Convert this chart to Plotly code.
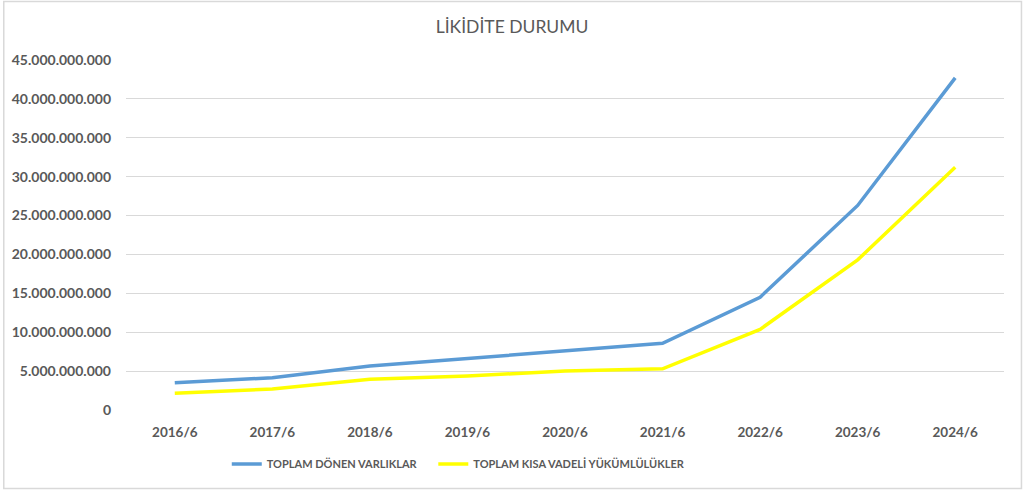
import plotly.graph_objects as go

categories = ["2016/6", "2017/6", "2018/6", "2019/6", "2020/6", "2021/6", "2022/6", "2023/6", "2024/6"]
donen_varliklar = [3.5e9, 4.15e9, 5.65e9, 6.6e9, 7.6e9, 8.57e9, 14.5e9, 26.3e9, 42.7e9]
kisa_vadeli = [2.15e9, 2.7e9, 3.95e9, 4.37e9, 5.0e9, 5.3e9, 10.37e9, 19.3e9, 31.2e9]
y_ticks = [0, 5e9, 10e9, 15e9, 20e9, 25e9, 30e9, 35e9, 40e9, 45e9]

W, H = 1024, 491
L, R, T, B = 124, 20, 60, 81
pw, ph = W - L - R, H - T - B

fig = go.Figure()
fig.add_trace(go.Scatter(x=categories, y=donen_varliklar, mode="lines",
                         name="TOPLAM DÖNEN VARLIKLAR", legend="legend",
                         line=dict(color="#5B9BD5", width=3.5)))
fig.add_trace(go.Scatter(x=categories, y=kisa_vadeli, mode="lines",
                         name="TOPLAM KISA VADELİ YÜKÜMLÜLÜKLER", legend="legend2",
                         line=dict(color="#FFFF00", width=3.5)))

font_family = "Lato, 'Open Sans', sans-serif"
legend_font = dict(family=font_family, size=11, color="#595959", weight="bold")
fig.update_layout(
    width=W, height=H,
    margin=dict(l=L, r=R, t=T, b=B),
    paper_bgcolor="white", plot_bgcolor="white",
    separators=",.",
    title=dict(text="LİKİDİTE DURUMU", x=0.5, xanchor="center", y=1 - 27 / H, yanchor="middle",
               font=dict(family=font_family, size=17.5, color="#595959")),
    font=dict(family=font_family, color="#595959"),
    showlegend=True,
    legend=dict(orientation="h", x=(225 - L) / pw, xanchor="left", y=(410 - 464) / ph, yanchor="middle",
                font=legend_font, itemwidth=30),
    legend2=dict(orientation="h", x=(432 - L) / pw, xanchor="left", y=(410 - 464) / ph, yanchor="middle",
                 font=legend_font, itemwidth=30),
    xaxis=dict(showgrid=False, showline=False, zeroline=False, ticks="",
               range=[-0.5, 8.5],
               tickfont=dict(family=font_family, size=13.5, color="#595959", weight="bold"),
               ticklabelstandoff=12, fixedrange=True),
    yaxis=dict(range=[0, 45e9], tickvals=y_ticks, tickformat=",d",
               showgrid=True, gridcolor="#D9D9D9", gridwidth=1.3,
               zeroline=False, showline=False, ticks="",
               tickfont=dict(family=font_family, size=14, color="#595959", weight="bold"),
               ticklabelstandoff=14, fixedrange=True),
)

fig.add_shape(type="rect", xref="paper", yref="paper",
              x0=(1.5 - L) / pw, x1=(1021.5 - L) / pw,
              y0=(410 - 488.5) / ph, y1=(410 - 1.5) / ph,
              line=dict(color="#D9D9D9", width=1.5), layer="below")

fig.write_html("out.html")
